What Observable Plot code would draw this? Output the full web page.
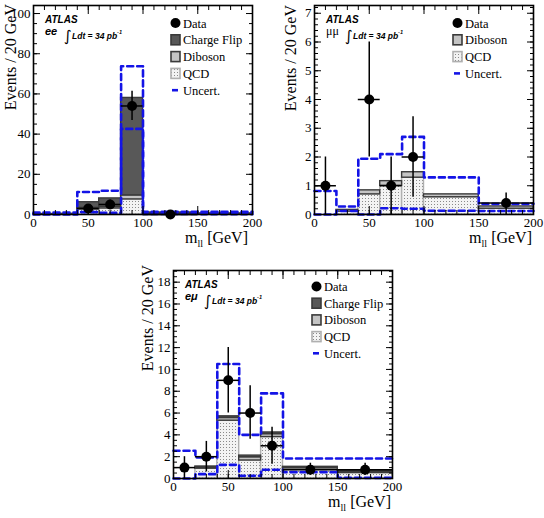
<!DOCTYPE html>
<html><head><meta charset="utf-8">
<script src="https://cdn.jsdelivr.net/npm/d3@7"></script>
<script src="https://cdn.jsdelivr.net/npm/@observablehq/plot@0.6"></script>
<style>
body{margin:0;background:#fff;}
#wrap{position:relative;width:544px;height:518px;overflow:hidden;background:#fff;}
.panel{position:absolute;}
</style></head><body><div id="wrap"></div>
<script>
// ---------- data ----------
const binEdges = [0, 20, 40, 60, 80, 100, 150, 200];
const xTickLabels = [0, 50, 100, 150, 200];

// ee channel
const eeQCD        = [0.1, 0.15, 2.5, 3.0, 7.5, 0.4, 0.2];
const eeDiboson    = [0.05, 0.05, 0.8, 0.8, 2.0, 0.2, 0.1];
const eeChargeFlip = [0.1, 0.1, 2.8, 4.2, 48.5, 0.4, 0.2];
const eeUncUp      = [1.0, 1.0, 11.2, 11.8, 73.8, 1.4, 1.3];
const eeUncDown    = [0, 0, 1.2, 0.8, 42.6, 0.3, 0.2];
const eeDataX      = [50, 70, 90, 125];
const eeDataY      = [3, 5, 54, 0];
const eeDataLo     = [1.3, 2.8, 46.8, 0];
const eeDataHi     = [4.7, 7.2, 61.3, 0];
const eeDataHalfW  = [10, 10, 10, 25];
const eeYTicks     = [0, 20, 40, 60, 80, 100];

// mumu channel
const mmQCD        = [0, 0.1, 0.7, 1.0, 1.28, 0.6, 0.2];
const mmDiboson    = [0, 0.06, 0.14, 0.16, 0.19, 0.1, 0.08];
const mmUncUp      = [0.82, 0.28, 1.94, 2.1, 2.7, 1.29, 0.37];
const mmUncDown    = [0, 0.12, 0, 0.22, 0.2, 0.13, 0.12];
const mmDataX      = [10, 50, 70, 90, 175];
const mmDataY      = [1, 4, 1, 2, 0.4];
const mmDataLo     = [0, 2, 0, 0.6, 0];
const mmDataHi     = [2, 6, 2, 3.4, 0.75];
const mmDataHalfW  = [10, 10, 10, 10, 25];
const mmYTicks     = [0, 1, 2, 3, 4, 5, 6, 7];

// emu channel
const emQCD        = [0, 0.9, 5.3, 1.65, 3.8, 0.8, 0.5];
const emDiboson    = [0, 0.1, 0.25, 0.3, 0.27, 0.17, 0.12];
const emChargeFlip = [0, 0.1, 0.15, 0.15, 0.15, 0.1, 0.08];
const emUncUp      = [2.54, 1.93, 10.5, 4.0, 7.8, 1.84, 1.84];
const emUncDown    = [0, 0.4, 1.25, 0.25, 0.8, 0.58, 0.06];
const emDataX      = [10, 30, 50, 70, 90, 125, 175];
const emDataY      = [1, 2, 9, 6, 3, 0.8, 0.8];
const emDataLo     = [0, 0.6, 6, 3.6, 1.3, 0.3, 0.3];
const emDataHi     = [2, 3.4, 12, 8.5, 4.7, 1.4, 1.4];
const emDataHalfW  = [10, 10, 10, 10, 10, 25, 25];
const emYTicks     = [0, 2, 4, 6, 8, 10, 12, 14, 16, 18];

// ---------- styles ----------
const SERIF = "'Liberation Serif','Times New Roman',serif";
const SANS = "'Liberation Sans',Arial,sans-serif";
const CF_FILL = "#585858", DIB_FILL = "#c4c4c4";
const DARK_LINE = "#3a3a3a", QCD_LINE = "#b0b0b0";
const UNC_COLOR = "#1414e6";

function makePanel(cfg) {
  const patId = "dots-" + cfg.id;
  const qcdFill = `url(#${patId})`;
  const series = [
    {name: "QCD", values: cfg.qcd, fill: qcdFill, stroke: QCD_LINE},
    {name: "Diboson", values: cfg.diboson, fill: DIB_FILL, stroke: DARK_LINE}
  ];
  if (cfg.chargeFlip) series.push({name: "Charge Flip", values: cfg.chargeFlip, fill: CF_FILL, stroke: DARK_LINE});
  const base = binEdges.slice(0, -1).map(() => 0);
  const rows = [];
  for (const s of series) {
    s.values.forEach((v, i) => {
      rows.push({x1: binEdges[i], x2: binEdges[i + 1], y1: base[i], y2: base[i] + v, fill: s.fill, stroke: s.stroke});
      base[i] += v;
    });
  }
  const stepRows = arr => arr.flatMap((v, i) => [{x: binEdges[i], y: v}, {x: binEdges[i + 1], y: v}]);
  const data = cfg.dataX.map((x, i) => ({x, y: cfg.dataY[i], lo: cfg.dataLo[i], hi: cfg.dataHi[i], xl: x - cfg.dataHalfW[i], xr: x + cfg.dataHalfW[i]}));
  const shown = data.filter(d => d.hi > 0);

  const xMinor = d3.range(0, 200.001, 10);
  const yMinor = d3.range(0, cfg.yMax, cfg.yMinorStep);
  const tickFont = {fontFamily: SERIF, fontSize: 13, fill: "#000"};

  const svg = Plot.plot({
    width: cfg.width, height: cfg.height,
    marginLeft: cfg.ml, marginRight: cfg.mr, marginTop: cfg.mt, marginBottom: cfg.mb,
    x: {domain: [0, 200], label: null},
    y: {domain: [0, cfg.yMax], label: null},
    color: {type: "identity"},
    style: {fontFamily: SERIF, fontSize: "13px", background: "transparent", color: "#000"},
    marks: [
      Plot.rect(rows, {x1: "x1", x2: "x2", y1: "y1", y2: "y2", fill: "fill", stroke: "stroke", strokeWidth: 1.4}),
      Plot.line(stepRows(cfg.uncUp), {x: "x", y: "y", stroke: UNC_COLOR, strokeWidth: 2.6, strokeDasharray: "6,4"}),
      Plot.line(stepRows(cfg.uncDown), {x: "x", y: "y", stroke: UNC_COLOR, strokeWidth: 2.6, strokeDasharray: "6,4"}),
      Plot.ruleX(shown, {x: "x", y1: "lo", y2: "hi", stroke: "#000", strokeWidth: 1.5}),
      Plot.ruleY(data, {y: "y", x1: "xl", x2: "xr", stroke: "#000", strokeWidth: 1.5}),
      Plot.dot(data, {x: "x", y: "y", r: 5, fill: "#000", stroke: "none"}),
      // tick labels
      Plot.axisX(xTickLabels, {anchor: "bottom", tickSize: 0, tickPadding: 3, label: null, ...tickFont}),
      Plot.axisY(cfg.yTicks, {anchor: "left", tickSize: 0, tickPadding: 3, label: null, ...tickFont}),
      // inward ticks on all four sides
      Plot.axisX(xTickLabels, {anchor: "bottom", tickSize: -8, fill: "none", label: null}),
      Plot.axisX(xMinor, {anchor: "bottom", tickSize: -4, fill: "none", label: null}),
      Plot.axisX(xTickLabels, {anchor: "top", tickSize: -8, fill: "none", label: null}),
      Plot.axisX(xMinor, {anchor: "top", tickSize: -4, fill: "none", label: null}),
      Plot.axisY(cfg.yTicks, {anchor: "left", tickSize: -7, fill: "none", label: null}),
      Plot.axisY(yMinor, {anchor: "left", tickSize: -4, fill: "none", label: null}),
      Plot.axisY(cfg.yTicks, {anchor: "right", tickSize: -7, fill: "none", label: null}),
      Plot.axisY(yMinor, {anchor: "right", tickSize: -4, fill: "none", label: null}),
      Plot.frame({stroke: "#000", strokeWidth: 1.6})
    ]
  });

  const s = d3.select(svg);
  // force serif tick labels
  s.selectAll("g").filter(function() { return this.getAttribute("font-family"); }).attr("font-family", SERIF);
  s.selectAll("text").style("font-family", SERIF);

  const pat = s.insert("defs", ":first-child").append("pattern")
    .attr("id", patId).attr("patternUnits", "userSpaceOnUse").attr("width", 3).attr("height", 3);
  pat.append("rect").attr("width", 3).attr("height", 3).attr("fill", "#f3f3f3");
  pat.append("rect").attr("width", 1).attr("height", 1).attr("fill", "#8a8a8a");

  const W = cfg.width;
  const fr = W - cfg.mr;
  const ann = s.append("g").attr("text-anchor", "start").attr("fill", "#000");
  // x title
  const xt = ann.append("text").attr("x", fr - cfg.xTitleInset).attr("y", cfg.xTitleY)
    .attr("text-anchor", "end").attr("font-family", SERIF).attr("font-size", 16);
  xt.append("tspan").text("m");
  xt.append("tspan").attr("font-size", 10).attr("dy", 4).text("ll");
  xt.append("tspan").attr("dy", -4).text(" [GeV]");
  // y title
  ann.append("text").attr("transform", `translate(${cfg.yTitleX},${cfg.yTitleTop}) rotate(-90)`)
    .attr("text-anchor", "end").attr("font-family", SERIF).attr("font-size", 16)
    .text("Events / 20 GeV");

  // ATLAS label block
  const ax = cfg.ml + 12, ay = cfg.mt + 17.5;
  ann.append("text").attr("x", ax).attr("y", ay).attr("font-family", SANS).attr("font-weight", "bold")
    .attr("font-style", "italic").attr("font-size", 10).text("ATLAS");
  ann.append("text").attr("x", ax).attr("y", ay + 12).attr("font-family", cfg.chanSerif ? SERIF : SANS)
    .attr("font-weight", cfg.chanSerif ? "normal" : "bold").attr("font-style", cfg.chanSerif ? "normal" : "italic")
    .attr("font-size", cfg.chanSerif ? 12 : 11).text(cfg.channel);
  ann.append("text").attr("x", ax + 19).attr("y", ay + 18.5).attr("font-family", "'DejaVu Sans',sans-serif")
    .attr("font-size", 15).text("∫");
  const lt = ann.append("text").attr("x", ax + 27).attr("y", ay + 16.5).attr("font-family", SANS)
    .attr("font-weight", "bold").attr("font-style", "italic").attr("font-size", 8.5);
  lt.append("tspan").text("Ldt = 34 pb");
  lt.append("tspan").attr("font-size", 5.5).attr("dy", -5).text("-1");

  // legend
  const lx = cfg.legX, ly = cfg.legY, step = cfg.legStep;
  const lg = ann.append("g").attr("font-family", SERIF).attr("font-size", 12.5);
  let row = 0;
  lg.append("circle").attr("cx", lx + 4.5).attr("cy", ly).attr("r", 5).attr("fill", "#000");
  lg.append("text").attr("x", lx + 12).attr("y", ly + 4.5).text("Data");
  row++;
  const boxes = [];
  if (cfg.chargeFlip) boxes.push(["Charge Flip", CF_FILL, DARK_LINE]);
  boxes.push(["Diboson", DIB_FILL, DARK_LINE]);
  boxes.push(["QCD", qcdFill, QCD_LINE]);
  for (const [name, f, st] of boxes) {
    const cy = ly + row * step;
    lg.append("rect").attr("x", lx).attr("y", cy - 5).attr("width", 9).attr("height", 10)
      .attr("fill", f).attr("stroke", st).attr("stroke-width", 1.6);
    lg.append("text").attr("x", lx + 12).attr("y", cy + 4.5).text(name);
    row++;
  }
  const uy = ly + row * step;
  lg.append("line").attr("x1", lx + 1).attr("x2", lx + 7).attr("y1", uy).attr("y2", uy)
    .attr("stroke", UNC_COLOR).attr("stroke-width", 2.6);
  lg.append("text").attr("x", lx + 12).attr("y", uy + 4.5).text("Uncert.");

  const div = document.createElement("div");
  div.className = "panel";
  div.style.left = cfg.left + "px";
  div.style.top = cfg.top + "px";
  div.appendChild(svg);
  document.getElementById("wrap").appendChild(div);
}

makePanel({
  id: "ee", left: 0, top: 0, width: 272, height: 250, ml: 33, mr: 20, mt: 5, mb: 36,
  yMax: 104, yTicks: eeYTicks, yMinorStep: 5,
  qcd: eeQCD, diboson: eeDiboson, chargeFlip: eeChargeFlip, uncUp: eeUncUp, uncDown: eeUncDown,
  dataX: eeDataX, dataY: eeDataY, dataLo: eeDataLo, dataHi: eeDataHi, dataHalfW: eeDataHalfW,
  channel: "ee", chanSerif: false,
  xTitleInset: 4, xTitleY: 243, yTitleX: 16, yTitleTop: 4,
  legX: 171, legY: 23, legStep: 16.8
});
makePanel({
  id: "mm", left: 272, top: 0, width: 272, height: 250, ml: 42, mr: 11, mt: 5, mb: 36,
  yMax: 7.27, yTicks: mmYTicks, yMinorStep: 0.2,
  qcd: mmQCD, diboson: mmDiboson, chargeFlip: null, uncUp: mmUncUp, uncDown: mmUncDown,
  dataX: mmDataX, dataY: mmDataY, dataLo: mmDataLo, dataHi: mmDataHi, dataHalfW: mmDataHalfW,
  channel: "μμ", chanSerif: true,
  xTitleInset: 1, xTitleY: 243, yTitleX: 24, yTitleTop: 5,
  legX: 181, legY: 23, legStep: 16.8
});
makePanel({
  id: "em", left: 130, top: 255, width: 280, height: 263, ml: 43, mr: 18, mt: 15, mb: 40,
  yMax: 19.07, yTicks: emYTicks, yMinorStep: 0.5,
  qcd: emQCD, diboson: emDiboson, chargeFlip: emChargeFlip, uncUp: emUncUp, uncDown: emUncDown,
  dataX: emDataX, dataY: emDataY, dataLo: emDataLo, dataHi: emDataHi, dataHalfW: emDataHalfW,
  channel: "eμ", chanSerif: false,
  xTitleInset: 1, xTitleY: 252, yTitleX: 23, yTitleTop: 10,
  legX: 182, legY: 31.5, legStep: 16.7
});
</script>
</body></html>
